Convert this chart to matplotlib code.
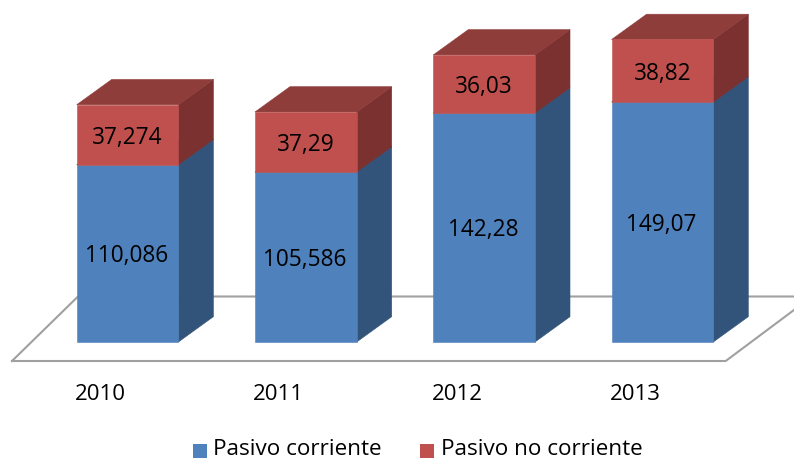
import matplotlib
matplotlib.use("Agg")
import matplotlib.pyplot as plt
from matplotlib.patches import Polygon, Rectangle

plt.rcParams['font.family'] = ['Open Sans', 'DejaVu Sans']

years = ['2010', '2011', '2012', '2013']
corriente = [110.086, 105.586, 142.28, 149.07]
no_corriente = [37.274, 37.29, 36.03, 38.82]
corriente_labels = ['110,086', '105,586', '142,28', '149,07']
no_corriente_labels = ['37,274', '37,29', '36,03', '38,82']

blue = ['#4f81bd', '#32547a', '#32547a']
red = ['#c0504d', '#7b3130', '#8f3d3b']

# 1 unit of value = 1.61 px, baseline at y=342 px
scale = 1.61
base_px = 342
x_first = 76.7
x_step = 178.3
bar_w = 101.7
dx = 35
dy = 25.3
dy_val = dy / scale

fig = plt.figure(figsize=(7.94, 4.61), dpi=100)
ax = fig.add_axes([0, 0, 1, 1])
ax.set_xlim(0, 794)
ax.set_ylim(-(461 - base_px) / scale, base_px / scale)
ax.axis('off')


def box(x, bottom, height, cols):
    top = bottom + height
    side = [(x + bar_w, bottom), (x + bar_w + dx, bottom + dy_val),
            (x + bar_w + dx, top + dy_val), (x + bar_w, top)]
    ax.add_patch(Polygon(side, fc=cols[1], ec=cols[1], lw=0.4, zorder=3))
    roof = [(x, top), (x + dx, top + dy_val), (x + bar_w + dx, top + dy_val), (x + bar_w, top)]
    ax.add_patch(Polygon(roof, fc=cols[2], ec=cols[2], lw=0.4, zorder=3))
    ax.add_patch(Rectangle((x, bottom), bar_w, height, fc=cols[0], ec=cols[0], lw=0.4, zorder=4))


# floor of the 3d chart
ax.plot([12, 78, 794], [-19 / scale, 45.5 / scale, 45.5 / scale], color='#a0a0a0', lw=1.5, zorder=1)
ax.plot([12, 725.7, 794], [-19 / scale, -19 / scale, 32 / scale], color='#a0a0a0', lw=1.5, zorder=1)

for i, year in enumerate(years):
    x = x_first + i * x_step
    box(x, 0, corriente[i], blue)
    box(x, corriente[i], no_corriente[i], red)
    ax.text(x + bar_w / 2 - 1, corriente[i] / 2, corriente_labels[i], ha='center', va='center_baseline',
            fontsize=16.3, color='black', zorder=5)
    ax.text(x + bar_w / 2, corriente[i] + no_corriente[i] / 2, no_corriente_labels[i], ha='center',
            va='center_baseline', fontsize=16.3, color='black', zorder=5)
    ax.text(x + bar_w / 2 - 27, -50 / scale, year, ha='center', va='center_baseline', fontsize=16, color='black')

# legend
ax.add_patch(Rectangle((193, -115.5 / scale), 14, 14 / scale, fc=blue[0], ec='none'))
ax.text(213, -105 / scale, 'Pasivo corriente', ha='left', va='center_baseline', fontsize=16.2)
ax.add_patch(Rectangle((420, -115.5 / scale), 14, 14 / scale, fc=red[0], ec='none'))
ax.text(441, -105 / scale, 'Pasivo no corriente', ha='left', va='center_baseline', fontsize=16.2)

fig.savefig('out.png', dpi=100)
